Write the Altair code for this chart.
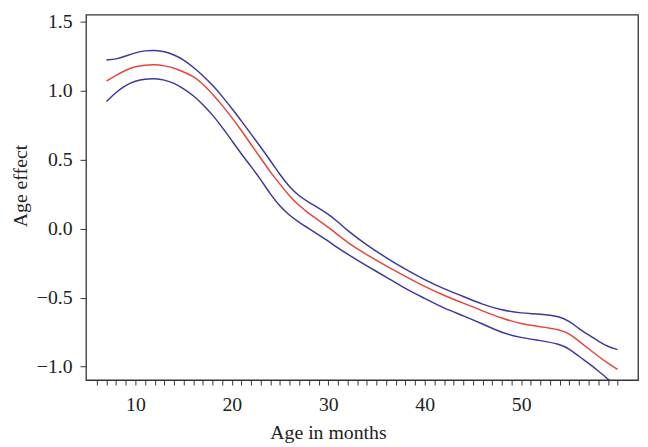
import altair as alt
import pandas as pd

months = [7, 8, 9, 10, 11, 12, 13, 14, 15, 16, 17, 18, 19, 20, 21, 22, 23, 24, 25, 26,
          27, 28, 29, 30, 31, 32, 34, 36, 38, 40, 42, 44, 46, 48, 50, 52, 54, 55, 56, 57,
          58, 59, 60]

fit = [1.07, 1.11, 1.15, 1.175, 1.185, 1.19, 1.18, 1.165, 1.135, 1.105, 1.05, 0.975,
       0.895, 0.805, 0.71, 0.61, 0.51, 0.41, 0.32, 0.235, 0.165, 0.11, 0.06, 0.01, -0.045,
       -0.10, -0.19, -0.27, -0.345, -0.42, -0.483, -0.54, -0.595, -0.65, -0.69, -0.71,
       -0.73, -0.76, -0.815, -0.87, -0.925, -0.975, -1.02]

upper = [1.222, 1.227, 1.25, 1.275, 1.29, 1.293, 1.285, 1.26, 1.225, 1.17, 1.11, 1.04,
         0.96, 0.87, 0.78, 0.685, 0.59, 0.493, 0.39, 0.30, 0.235, 0.19, 0.15, 0.105, 0.05,
         -0.015, -0.12, -0.21, -0.295, -0.37, -0.436, -0.49, -0.55, -0.59, -0.613, -0.617,
         -0.636, -0.67, -0.725, -0.77, -0.815, -0.855, -0.876]

lower = [0.921, 0.99, 1.04, 1.07, 1.085, 1.088, 1.078, 1.055, 1.015, 0.965, 0.90, 0.825,
         0.735, 0.638, 0.54, 0.45, 0.355, 0.25, 0.16, 0.095, 0.045, 0.0, -0.045, -0.09,
         -0.14, -0.185, -0.27, -0.35, -0.435, -0.505, -0.577, -0.63, -0.69, -0.755, -0.79,
         -0.81, -0.836, -0.87, -0.925, -0.975, -1.03, -1.09, -1.15]

rug_months = list(range(6, 61))
x_labels = [10, 20, 30, 40, 50]
y_ticks = [-1.0, -0.5, 0.0, 0.5, 1.0, 1.5]

rows = []
for name, vals in [("upper", upper), ("lower", lower), ("fit", fit)]:
    for m, v in zip(months, vals):
        rows.append({"age": m, "effect": v, "series": name})
df = pd.DataFrame(rows)

FONT = "Liberation Serif"
TXT = "#222222"

label_expr = "indexof([" + ",".join(str(v) for v in x_labels) + "], datum.value) >= 0 ? datum.label : ''"

chart = alt.Chart(df).mark_line(strokeWidth=1.5, clip=True, interpolate="basis").encode(
    x=alt.X("age:Q",
            scale=alt.Scale(domain=[4.88, 62.12], nice=False, zero=False),
            axis=alt.Axis(values=rug_months, labelExpr=label_expr, title="Age in months",
                          grid=False, domain=False, tickSize=5, tickColor="#333333",
                          tickWidth=1, labelFont=FONT, labelFontSize=20, labelColor=TXT,
                          labelBaseline="alphabetic", labelPadding=26, labelOverlap=False,
                          labelFlush=False, titleFont=FONT, titleFontSize=20,
                          titleFontWeight="normal", titleColor=TXT,
                          titleX=245, titleY=59, titleAlign="center",
                          titleBaseline="alphabetic")),
    y=alt.Y("effect:Q",
            scale=alt.Scale(domain=[-1.0966, 1.55], nice=False, zero=False),
            axis=alt.Axis(values=y_ticks, format=".1f", title="Age effect", grid=False,
                          domain=False, tickSize=6, tickColor="#333333", tickWidth=1,
                          labelFont=FONT, labelFontSize=20, labelColor=TXT,
                          labelPadding=8, labelOverlap=False, labelFlush=False,
                          titleFont=FONT, titleFontSize=20, titleFontWeight="normal",
                          titleColor=TXT, titleAngle=270, titleX=-60, titleY=173,
                          titleAlign="center", titleBaseline="alphabetic")),
    color=alt.Color("series:N",
                    scale=alt.Scale(domain=["upper", "lower", "fit"],
                                    range=["#3b3a9c", "#3b3a9c", "#e5463a"]),
                    legend=None),
    detail="series:N",
).properties(
    width=559,
    height=370,
    padding={"left": 79, "top": 4, "right": 2, "bottom": 65},
    autosize="none",
    background="white",
).configure_view(
    stroke="#333333",
    strokeWidth=1.3,
)

chart.save("out.html", embed_options={"renderer": "svg", "actions": False})
